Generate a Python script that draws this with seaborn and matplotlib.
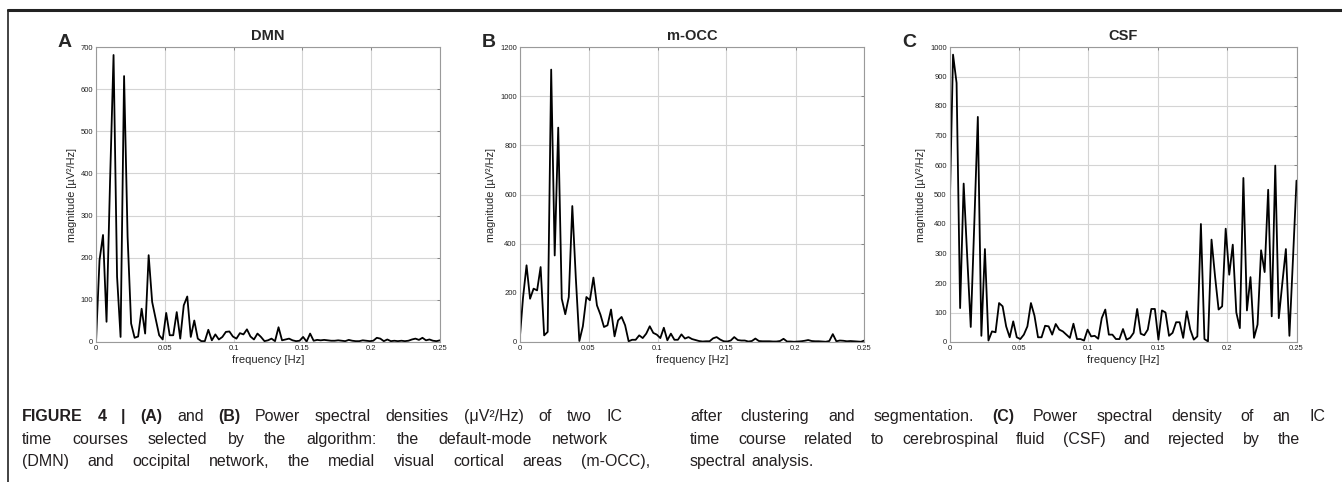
import numpy as np
import matplotlib
matplotlib.use("Agg")
import matplotlib.pyplot as plt
import seaborn as sns
from matplotlib.lines import Line2D

# power spectra (uV^2/Hz), 0 .. 0.25 Hz
dmn = [0, 194, 254, 48, 380, 681, 155, 12, 631, 250,
       44, 10, 13, 79, 20, 206, 95, 55, 16, 6,
       69, 16, 16, 71, 8, 87, 108, 12, 51, 8,
       2, 2, 29, 4, 18, 6, 12, 24, 25, 13,
       8, 21, 18, 30, 13, 6, 20, 12, 2, 4,
       8, 2, 35, 4, 6, 8, 4, 2, 3, 12,
       1, 20, 3, 5, 4, 5, 4, 3, 3, 4,
       3, 2, 5, 3, 2, 2, 4, 3, 2, 3,
       10, 8, 2, 6, 2, 3, 2, 3, 2, 3,
       6, 8, 5, 10, 4, 6, 3, 2, 4]
mocc = [0, 180, 312, 176, 217, 210, 305, 27, 41, 1108,
        352, 872, 176, 113, 183, 553, 260, 4, 64, 183,
        170, 262, 149, 111, 61, 68, 132, 23, 88, 102,
        68, 3, 9, 9, 27, 16, 34, 64, 37, 30,
        16, 58, 7, 34, 9, 9, 31, 14, 20, 12,
        8, 4, 2, 3, 3, 15, 20, 10, 3, 2,
        6, 20, 8, 6, 6, 2, 4, 14, 4, 3,
        3, 3, 2, 2, 4, 13, 2, 2, 1, 2,
        3, 5, 8, 4, 3, 3, 2, 1, 4, 32,
        3, 6, 5, 3, 4, 3, 2, 1, 6]
csf = [420, 974, 878, 115, 537, 290, 51, 400, 763, 21,
       315, 5, 36, 33, 132, 121, 53, 16, 70, 16,
       10, 25, 53, 132, 89, 16, 16, 55, 53, 25,
       61, 42, 36, 25, 14, 62, 10, 10, 5, 42,
       19, 21, 11, 81, 110, 25, 25, 10, 10, 44,
       8, 14, 31, 112, 28, 23, 42, 112, 112, 8,
       107, 100, 21, 31, 67, 67, 14, 104, 42, 8,
       19, 400, 10, 2, 347, 222, 110, 121, 384, 228,
       330, 100, 47, 556, 107, 220, 14, 59, 311, 237,
       516, 87, 598, 81, 200, 315, 21, 280, 547]

titles = ["DMN", "m-OCC", "CSF"]
letters = ["A", "B", "C"]
ymax = [700, 1200, 1000]
ystep = [100, 200, 100]
xticks = [0, 0.05, 0.1, 0.15, 0.2, 0.25]
xticklabels = ["0", "0.05", "0.1", "0.15", "0.2", "0.25"]

sns.set_theme(style="whitegrid")
plt.rcParams["font.family"] = ["Liberation Sans", "DejaVu Sans"]

W, H = 1342, 482
fig = plt.figure(figsize=(W / 100, H / 100), dpi=100)

# axes boxes in pixels: left, right, top, bottom
boxes = [(96, 440, 47, 342), (519.5, 864.5, 47, 342), (949.5, 1296.5, 47, 342)]
letter_x = [58, 482, 902]

for k, series in enumerate([dmn, mocc, csf]):
    l, r, t, b = boxes[k]
    ax = fig.add_axes([l / W, 1 - b / H, (r - l) / W, (b - t) / H])
    freq = np.linspace(0, 0.25, len(series))
    sns.lineplot(x=freq, y=series, ax=ax, color="black", lw=1.3)
    ax.set_xlim(0, 0.25)
    ax.set_ylim(0, ymax[k])
    ax.set_xticks(xticks)
    ax.set_xticklabels(xticklabels)
    ax.set_yticks(np.arange(0, ymax[k] + 1, ystep[k]))
    ax.set_facecolor("white")
    ax.grid(True, color="#d4d4d4", lw=0.8)
    for s in ax.spines.values():
        s.set_color("#9a9a9a")
        s.set_linewidth(0.8)
    ax.tick_params(direction="in", length=2, width=0.6, color="#777777",
                   labelsize=5.5, pad=2, top=True, right=True,
                   labelcolor="#222222")
    ax.set_title(titles[k], fontsize=10.5, fontweight="bold", pad=5)
    ax.set_xlabel("frequency [Hz]", fontsize=8, labelpad=2)
    ax.set_ylabel("magnitude [\u00b5V\u00b2/Hz]", fontsize=7.8, labelpad=3)
    fig.text(letter_x[k] / W, 1 - 47 / H, letters[k], fontsize=14,
             fontweight="bold", ha="left", va="baseline")

# frame of the figure
fig.add_artist(Line2D([8 / W, 1], [1 - 10 / H, 1 - 10 / H], color="#222222",
                      lw=2.2, transform=fig.transFigure))
fig.add_artist(Line2D([8 / W, 8 / W], [0, 1 - 10 / H], color="#222222",
                      lw=1.2, transform=fig.transFigure))

# caption in two columns
left_col = [
    [("FIGURE", True), ("4", True), ("|", True), ("(A)", True), ("and", False),
     ("(B)", True), ("Power", False), ("spectral", False), ("densities", False),
     ("(\u03bcV\u00b2/Hz)", False), ("of", False), ("two", False), ("IC", False)],
    [(w, False) for w in "time courses selected by the algorithm: the default-mode network".split()],
    [(w, False) for w in "(DMN) and occipital network, the medial visual cortical areas (m-OCC),".split()],
]
right_col = [
    [(w, False) for w in "after clustering and segmentation.".split()] + [("(C)", True)]
    + [(w, False) for w in "Power spectral density of an IC".split()],
    [(w, False) for w in "time course related to cerebrospinal fluid (CSF) and rejected by the".split()],
    [(w, False) for w in "spectral analysis.".split()],
]
left_ends = [622, 608, 650]
right_ends = [1325, 1300, None]

renderer = fig.canvas.get_renderer()


def draw_line(words, x0, x1, y):
    texts = [fig.text(0, 1 - y / H, w, fontsize=11.5,
                      fontweight="bold" if bold else "normal",
                      color="#231f20", va="baseline", ha="left")
             for w, bold in words]
    widths = [t.get_window_extent(renderer).width for t in texts]
    space = 5
    if x1 is not None and len(texts) > 1:
        space = (x1 - x0 - sum(widths)) / (len(texts) - 1)
    x = x0
    for t, w in zip(texts, widths):
        t.set_x(x / W)
        x += w + space


baselines = [421, 444, 466]
for i, words in enumerate(left_col):
    draw_line(words, 22, left_ends[i], baselines[i])
for i, words in enumerate(right_col):
    draw_line(words, 690, right_ends[i], baselines[i])

fig.savefig("out.png", dpi=100)
